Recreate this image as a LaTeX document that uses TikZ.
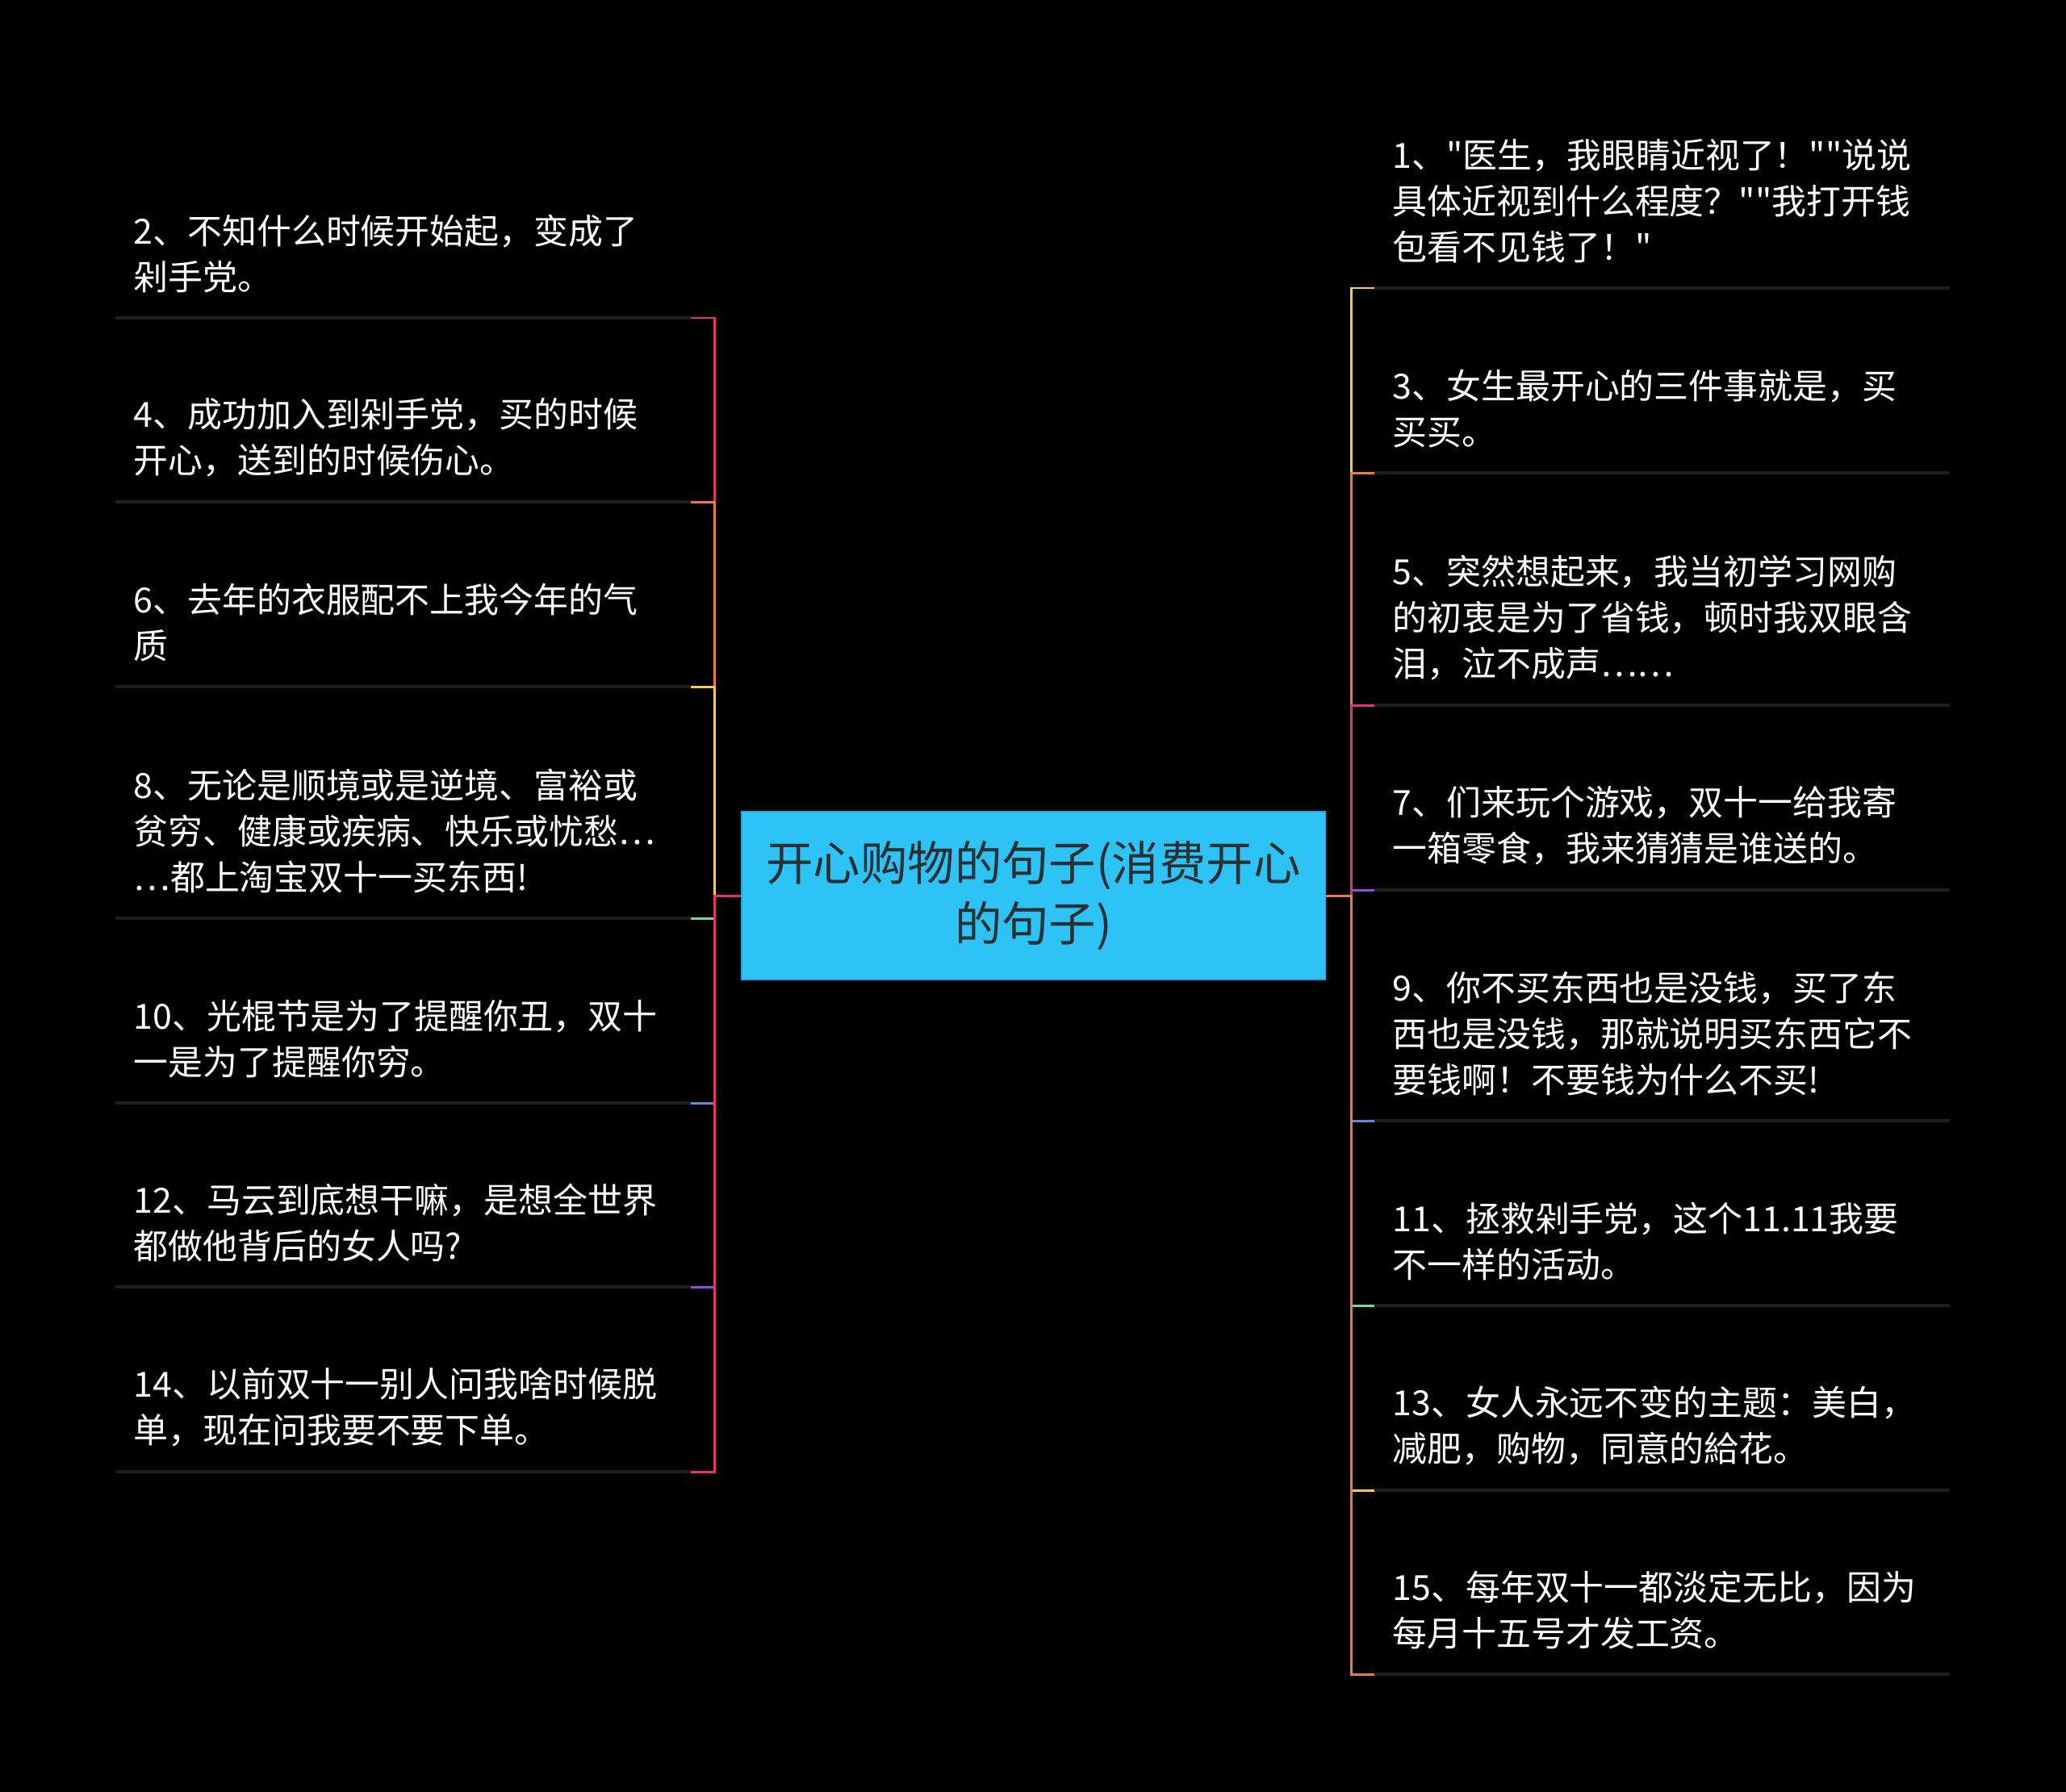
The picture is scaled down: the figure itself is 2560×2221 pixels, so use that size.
\documentclass[tikz,border=0pt]{standalone}
\usepackage{fontspec}
\setmainfont{Noto Sans CJK SC}[Ligatures=TeXOff]
\usepackage{tikz}
\definecolor{mapbg}{HTML}{000000}
\definecolor{topicfill}{HTML}{2DC3F5}
\definecolor{topicedge}{HTML}{23A9DC}
\definecolor{topicink}{HTML}{2A2F33}
\definecolor{rulegray}{HTML}{1E1E1E}
\definecolor{cpink}{HTML}{E7306F}
\definecolor{corange}{HTML}{EE7B3C}
\definecolor{cyellow}{HTML}{F6C94F}
\definecolor{cgreen}{HTML}{6BDB8C}
\definecolor{cblue}{HTML}{5A8EDB}
\definecolor{cpurple}{HTML}{8C52DB}
\tikzset{
  topicbox/.style={fill=topicfill, draw=topicedge, line width=0.4pt, minimum width=7.23cm, minimum height=2.08cm,
    inner sep=0pt, align=center, font=\fontsize{16.6pt}{21.3pt}\selectfont, text=topicink},
  leafbox/.style={anchor=south west, text width=6.67cm, inner xsep=0.22cm, inner ysep=0.3cm,
    align=left, font=\fontsize{12.2pt}{16.2pt}\selectfont, text=white},
  leafrule/.style={draw=rulegray, line width=1.15pt},
  branch/.style={line width=0.85pt}
}
\begin{document}
\begin{tikzpicture}[x=0.01cm, y=-0.01cm]
\fill[mapbg] (0,0) rectangle (2560,2221);
\node[topicbox] (topic) at (1280.5,1110) {开心购物的句子(消费开心\\的句子)};
\node[leafbox] (l2) at (143,394) {2、不知什么时候开始起，变成了\\剁手党。};
\node[leafbox] (l4) at (143,622) {4、成功加入到剁手党，买的时候\\开心，送到的时候伤心。};
\node[leafbox] (l6) at (143,851) {6、去年的衣服配不上我今年的气\\质};
\node[leafbox] (l8) at (143,1138) {8、无论是顺境或是逆境、富裕或\\贫穷、健康或疾病、快乐或忧愁…\\…都上淘宝双十一买东西!};
\node[leafbox] (l10) at (143,1367) {10、光棍节是为了提醒你丑，双十\\一是为了提醒你穷。};
\node[leafbox] (l12) at (143,1595) {12、马云到底想干嘛，是想全世界\\都做他背后的女人吗?};
\node[leafbox] (l14) at (143,1824) {14、以前双十一别人问我啥时候脱\\单，现在问我要不要下单。};
\node[leafbox] (r1) at (1703,357) {1、"医生，我眼睛近视了！""说说\\具体近视到什么程度？""我打开钱\\包看不见钱了！"};
\node[leafbox] (r3) at (1703,586) {3、女生最开心的三件事就是，买\\买买。};
\node[leafbox] (r5) at (1703,874) {5、突然想起来，我当初学习网购\\的初衷是为了省钱，顿时我双眼含\\泪，泣不成声……};
\node[leafbox] (r7) at (1703,1103) {7、们来玩个游戏，双十一给我寄\\一箱零食，我来猜猜是谁送的。};
\node[leafbox] (r9) at (1703,1389) {9、你不买东西也是没钱，买了东\\西也是没钱，那就说明买东西它不\\要钱啊！不要钱为什么不买!};
\node[leafbox] (r11) at (1703,1618) {11、拯救剁手党，这个11.11我要\\不一样的活动。};
\node[leafbox] (r13) at (1703,1847) {13、女人永远不变的主题：美白，\\减肥，购物，同意的給花。};
\node[leafbox] (r15) at (1703,2075) {15、每年双十一都淡定无比，因为\\每月十五号才发工资。};
\foreach \n in {l2,l4,l6,l8,l10,l12,l14,r1,r3,r5,r7,r9,r11,r13,r15}
  \draw[leafrule] (\n.south west) -- (\n.south east);
\draw[branch, cpink] (topic.west) -- ++(-33,0) |- (l2.south east);
\draw[branch, corange] (topic.west) -- ++(-33,0) |- (l4.south east);
\draw[branch, cyellow] (topic.west) -- ++(-33,0) |- (l6.south east);
\draw[branch, cgreen] (topic.west) -- ++(-33,0) |- (l8.south east);
\draw[branch, cblue] (topic.west) -- ++(-33,0) |- (l10.south east);
\draw[branch, cpurple] (topic.west) -- ++(-33,0) |- (l12.south east);
\draw[branch, cpink] (topic.west) -- ++(-33,0) |- (l14.south east);
\draw[branch, cpurple] (topic.east) -- ++(32,0) |- (r7.south west);
\draw[branch, cyellow] (topic.east) -- ++(32,0) |- (r1.south west);
\draw[branch, corange] (topic.east) -- ++(32,0) |- (r3.south west);
\draw[branch, cpink] (topic.east) -- ++(32,0) |- (r5.south west);
\draw[branch, cblue] (topic.east) -- ++(32,0) |- (r9.south west);
\draw[branch, cgreen] (topic.east) -- ++(32,0) |- (r11.south west);
\draw[branch, cyellow] (topic.east) -- ++(32,0) |- (r13.south west);
\draw[branch, corange] (topic.east) -- ++(32,0) |- (r15.south west);
\end{tikzpicture}
\end{document}
